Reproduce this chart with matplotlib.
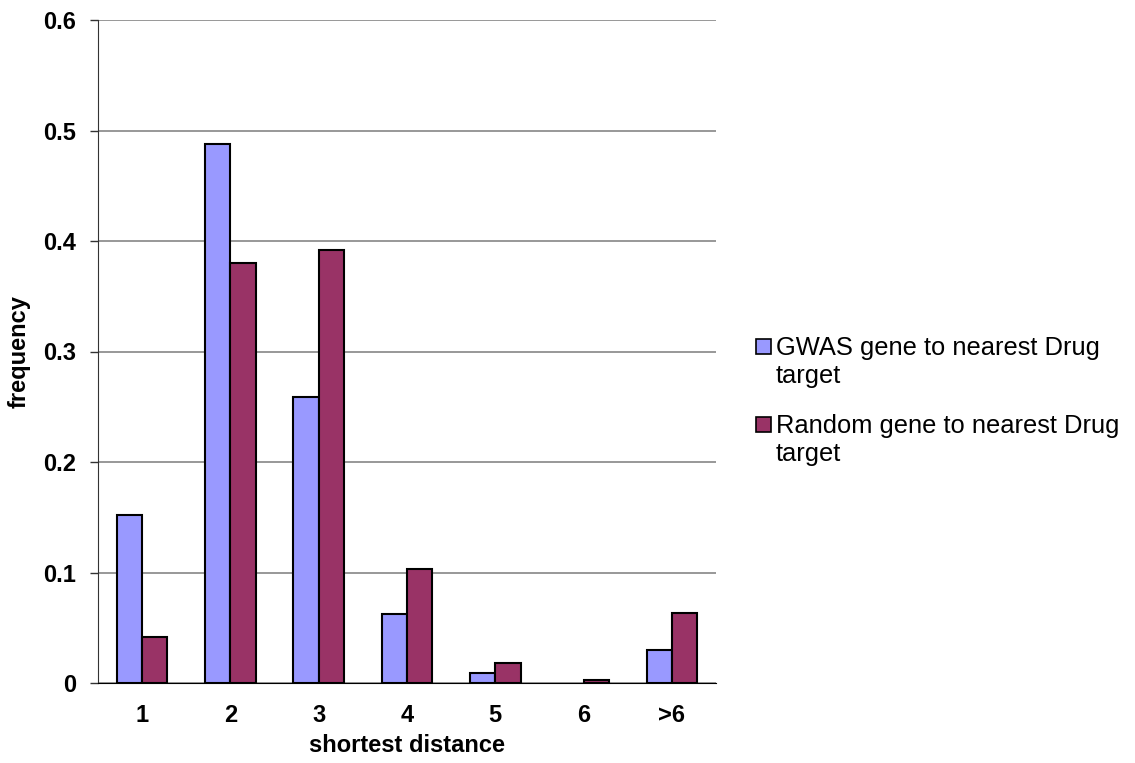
import matplotlib.pyplot as plt
import numpy as np
from matplotlib.patches import Rectangle

# dữ liệu
categories = ['1', '2', '3', '4', '5', '6', '>6']
gwas = [0.152, 0.488, 0.259, 0.062, 0.009, 0.0, 0.030]
random_gene = [0.042, 0.380, 0.392, 0.103, 0.018, 0.003, 0.063]
yticks = [0, 0.1, 0.2, 0.3, 0.4, 0.5, 0.6]
ytick_labels = ['0', '0.1', '0.2', '0.3', '0.4', '0.5', '0.6']
legend_labels = [('GWAS gene to nearest Drug', 'target'),
                 ('Random gene to nearest Drug', 'target')]
colors = ['#9999FF', '#993366']

plt.rcParams['font.family'] = ['Liberation Sans', 'DejaVu Sans']

fig = plt.figure(figsize=(11.35, 7.63), dpi=100)
ax = fig.add_axes([98 / 1135, 1 - 683 / 763, (716 - 98) / 1135, (683 - 20) / 763])

x = np.arange(len(categories))
w = 1 / 3.5
# cột bằng 0 thì không vẽ viền (giống Excel)
lw_g = [1.5 if v > 0 else 0 for v in gwas]
lw_r = [1.5 if v > 0 else 0 for v in random_gene]
ax.bar(x - w / 2, gwas, w, color=colors[0], edgecolor='black', linewidth=lw_g, zorder=3)
ax.bar(x + w / 2, random_gene, w, color=colors[1], edgecolor='black', linewidth=lw_r, zorder=3)

ax.set_xlim(-0.5, len(categories) - 0.5)
ax.set_ylim(0, 0.6)
ax.set_yticks(yticks)
ax.set_yticklabels(ytick_labels, fontsize=17, fontweight='bold')
ax.set_xticks(x)
ax.set_xticklabels(categories, fontsize=17, fontweight='bold')
ax.tick_params(axis='x', length=0, pad=15)
ax.tick_params(axis='y', length=6, width=1, pad=10, color='#333333')
ax.grid(axis='y', color='#868686', linewidth=1.2, zorder=0)
for s in ['top', 'right']:
    ax.spines[s].set_visible(False)
ax.spines['left'].set_color('#333333')
ax.spines['bottom'].set_color('black')
ax.spines['bottom'].set_zorder(4)

ax.set_xlabel('shortest distance', fontsize=17, fontweight='bold', labelpad=5)
ax.set_ylabel('frequency', fontsize=17, fontweight='bold', labelpad=9)

# chú thích vẽ tay
tops = [339, 417]
for i, (l1, l2) in enumerate(legend_labels):
    y0 = tops[i]
    fig.patches.append(Rectangle((756 / 1135, 1 - (y0 + 15) / 763), 15 / 1135, 15 / 763,
                                 transform=fig.transFigure, facecolor=colors[i],
                                 edgecolor='black', linewidth=1.2))
    fig.text(776 / 1135, 1 - (y0 + 16) / 763, l1, fontsize=18.4, va='baseline')
    fig.text(776 / 1135, 1 - (y0 + 44) / 763, l2, fontsize=18.4, va='baseline')

fig.savefig('out.png', dpi=100)
